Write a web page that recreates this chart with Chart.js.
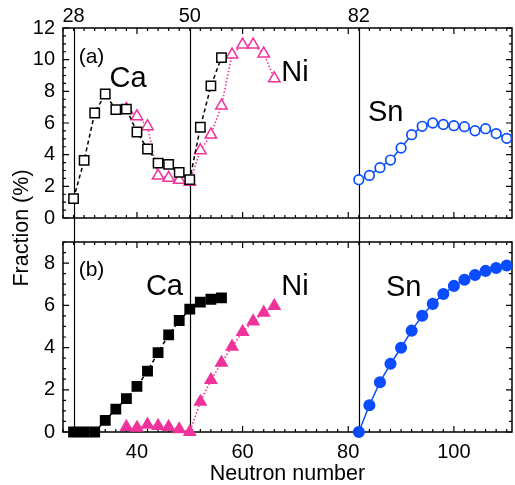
<!DOCTYPE html>
<html>
<head>
<meta charset="utf-8">
<script src="https://cdn.jsdelivr.net/npm/chart.js@4.4.1/dist/chart.umd.min.js"></script>
<style>
  html, body { margin: 0; padding: 0; background: #fff; }
  #wrap { position: relative; width: 515px; height: 485px; }
  #wrap canvas { position: absolute; left: 0; top: 0; }
</style>
</head>
<body>
<div id="wrap">
  <canvas id="panelA" width="515" height="485"></canvas>
  <canvas id="panelB" width="515" height="485"></canvas>
</div>
<script>
// neutron numbers of each isotope chain
const caN = [28, 30, 32, 34, 36, 38, 40, 42, 44, 46, 48, 50, 52, 54, 56];
const niN = [38, 40, 42, 44, 46, 48, 50, 52, 54, 56, 58, 60, 62, 64, 66];
const snN = [82, 84, 86, 88, 90, 92, 94, 96, 98, 100, 102, 104, 106, 108, 110];

// panel (a) fractions (%)
const caA = [1.22, 3.64, 6.63, 7.83, 6.84, 6.88, 5.43, 4.36, 3.47, 3.39, 2.88, 2.42, 5.73, 8.34, 10.13];
const niA = [6.88, 6.42, 5.79, 2.67, 2.53, 2.40, 2.27, 4.27, 5.26, 7.09, 10.32, 10.95, 10.95, 10.38, 8.82];
const snA = [2.42, 2.69, 3.18, 3.66, 4.42, 5.26, 5.79, 6.00, 5.91, 5.83, 5.77, 5.51, 5.64, 5.33, 5.03];

// panel (b) fractions (%)
const caB = [0, 0, 0, 0.55, 1.08, 1.58, 2.16, 2.88, 3.76, 4.60, 5.28, 5.82, 6.15, 6.29, 6.35];
const niB = [0.24, 0.20, 0.35, 0.29, 0.24, 0.13, 0, 1.43, 2.46, 3.28, 4.04, 4.74, 5.24, 5.65, 5.97];
const snB = [0, 1.27, 2.36, 3.23, 3.99, 4.80, 5.51, 6.07, 6.54, 6.92, 7.21, 7.44, 7.63, 7.77, 7.89];

// axes
const magicNumbers = [28, 50, 82];
const xTickLabels = [40, 60, 80, 100];
const yTicksA = [0, 2, 4, 6, 8, 10, 12];
const yTicksB = [0, 2, 4, 6, 8];

const FONT = "'Liberation Sans', Arial, Helvetica, sans-serif";
const PINK = '#f0329b';
const BLUE = '#0a4dff';

// text placed in data units of each panel
const textA = [
    { text: '(a)', x: 31.4, y: 9.8, size: 21 },
    { text: 'Ca', x: 38.3, y: 8.3, size: 29 },
    { text: 'Ni', x: 69.9, y: 8.63, size: 29 },
    { text: 'Sn', x: 87.1, y: 6.14, size: 29 }
];
const textB = [
    { text: '(b)', x: 31.4, y: 7.4, size: 21 },
    { text: 'Ca', x: 45.2, y: 6.5, size: 29 },
    { text: 'Ni', x: 69.9, y: 6.5, size: 29 },
    { text: 'Sn', x: 90.5, y: 6.46, size: 29 }
];

function points(xs, ys) {
    return xs.map((x, i) => ({ x: x, y: ys[i] }));
}

function makeDatasets(ca, ni, sn, filled) {
    return [
        {
            data: points(caN, ca),
            borderColor: '#000',
            backgroundColor: filled ? '#000' : '#fff',
            pointBorderColor: '#000',
            borderWidth: 1.5,
            borderDash: [4, 3],
            pointStyle: 'rect',
            pointRadius: 6.6,
            pointBorderWidth: 1.5
        },
        {
            data: points(niN, ni),
            borderColor: PINK,
            backgroundColor: filled ? PINK : '#fff',
            pointBorderColor: PINK,
            borderWidth: 1.6,
            borderDash: [1.5, 2],
            pointStyle: 'triangle',
            pointRadius: 6.6,
            pointBorderWidth: 1.5
        },
        {
            data: points(snN, sn),
            borderColor: BLUE,
            backgroundColor: filled ? BLUE : '#fff',
            pointBorderColor: BLUE,
            borderWidth: 1.5,
            pointStyle: 'circle',
            pointRadius: filled ? 5.2 : 4.8,
            pointBorderWidth: 1.7
        }
    ].map(ds => Object.assign(ds, { showLine: true, clip: false, tension: 0 }));
}

/**
 * Frame, inward ticks, magic number lines and text of one panel
 */
const panelPlugin = {
    id: 'panel',
    beforeDatasetsDraw(chart, args, opts) {
        const { ctx, chartArea: a, scales: { x, y } } = chart;
        ctx.save();
        ctx.strokeStyle = '#000';

        // vertical lines at the magic numbers
        ctx.lineWidth = 1.2;
        magicNumbers.forEach(n => {
            const px = Math.round(x.getPixelForValue(n)) + 0.5;
            ctx.beginPath();
            ctx.moveTo(px, a.top);
            ctx.lineTo(px, opts.lineBottom || a.bottom);
            ctx.stroke();
        });

        // frame
        ctx.lineWidth = 1.5;
        ctx.strokeRect(a.left, a.top, a.width, a.height);

        // inward ticks
        ctx.lineWidth = 1.2;
        ctx.beginPath();
        for (let v = Math.ceil(x.min / 2) * 2; v <= x.max; v += 2) {
            const px = x.getPixelForValue(v);
            const len = v % 20 === 0 ? 6 : 3;
            ctx.moveTo(px, a.bottom); ctx.lineTo(px, a.bottom - len);
            ctx.moveTo(px, a.top); ctx.lineTo(px, a.top + len);
        }
        for (let v = 0; v <= y.max; v += 0.5) {
            const py = y.getPixelForValue(v);
            const len = v % 2 === 0 ? 6 : 3;
            ctx.moveTo(a.left, py); ctx.lineTo(a.left + len, py);
            ctx.moveTo(a.right, py); ctx.lineTo(a.right - len, py);
        }
        ctx.stroke();

        ctx.fillStyle = '#000';
        ctx.textAlign = 'center';
        ctx.textBaseline = 'alphabetic';

        // magic numbers above the top panel
        if (opts.topLabels) {
            ctx.font = '20px ' + FONT;
            magicNumbers.forEach(n => {
                ctx.fillText(String(n), x.getPixelForValue(n), a.top - 6);
            });
        }

        // panel texts
        (opts.texts || []).forEach(t => {
            ctx.font = t.size + 'px ' + FONT;
            ctx.fillText(t.text, x.getPixelForValue(t.x), y.getPixelForValue(t.y));
        });

        // x title under the lower panel
        if (opts.xTitle) {
            ctx.font = '21.5px ' + FONT;
            ctx.fillText(opts.xTitle, (a.left + a.right) / 2, a.bottom + 48);
        }

        // shared y title
        if (opts.yTitle) {
            ctx.save();
            ctx.translate(22, 228);
            ctx.rotate(-Math.PI / 2);
            ctx.font = '21.5px ' + FONT;
            ctx.textBaseline = 'middle';
            ctx.fillText(opts.yTitle, 0, 0);
            ctx.restore();
        }
        ctx.restore();
    }
};

function yScale(max, ticks) {
    return {
        type: 'linear',
        min: 0,
        max: max,
        grid: { display: false, drawTicks: false },
        border: { display: false },
        ticks: { color: '#000', padding: 8, font: { family: FONT, size: 20 } },
        afterBuildTicks: s => { s.ticks = ticks.map(v => ({ value: v })); },
        afterFit: s => { s.width = 63; }
    };
}

function baseOptions() {
    return {
        responsive: false,
        animation: false,
        events: [],
        plugins: { legend: { display: false }, tooltip: { enabled: false } }
    };
}

// panel (a)
const optsA = baseOptions();
optsA.layout = { autoPadding: false, padding: { top: 28, right: 3, bottom: 485 - 218, left: 0 } };
optsA.scales = {
    x: { type: 'linear', min: 26, max: 111, display: false },
    y: yScale(12, yTicksA)
};
optsA.plugins.panel = { topLabels: true, texts: textA, lineBottom: 242 };

new Chart(document.getElementById('panelA'), {
    type: 'scatter',
    data: { datasets: makeDatasets(caA, niA, snA, false) },
    options: optsA,
    plugins: [panelPlugin]
});

// panel (b)
const optsB = baseOptions();
optsB.layout = { autoPadding: false, padding: { top: 242, right: 3, bottom: 0, left: 0 } };
optsB.scales = {
    x: {
        type: 'linear',
        min: 26,
        max: 111,
        grid: { display: false, drawTicks: false },
        border: { display: false },
        ticks: { color: '#000', padding: 8, font: { family: FONT, size: 20 } },
        afterBuildTicks: s => { s.ticks = xTickLabels.map(v => ({ value: v })); },
        afterFit: s => { s.height = 485 - 432; }
    },
    y: yScale(9, yTicksB)
};
optsB.plugins.panel = { texts: textB, xTitle: 'Neutron number', yTitle: 'Fraction (%)' };

new Chart(document.getElementById('panelB'), {
    type: 'scatter',
    data: { datasets: makeDatasets(caB, niB, snB, true) },
    options: optsB,
    plugins: [panelPlugin]
});
</script>
</body>
</html>
